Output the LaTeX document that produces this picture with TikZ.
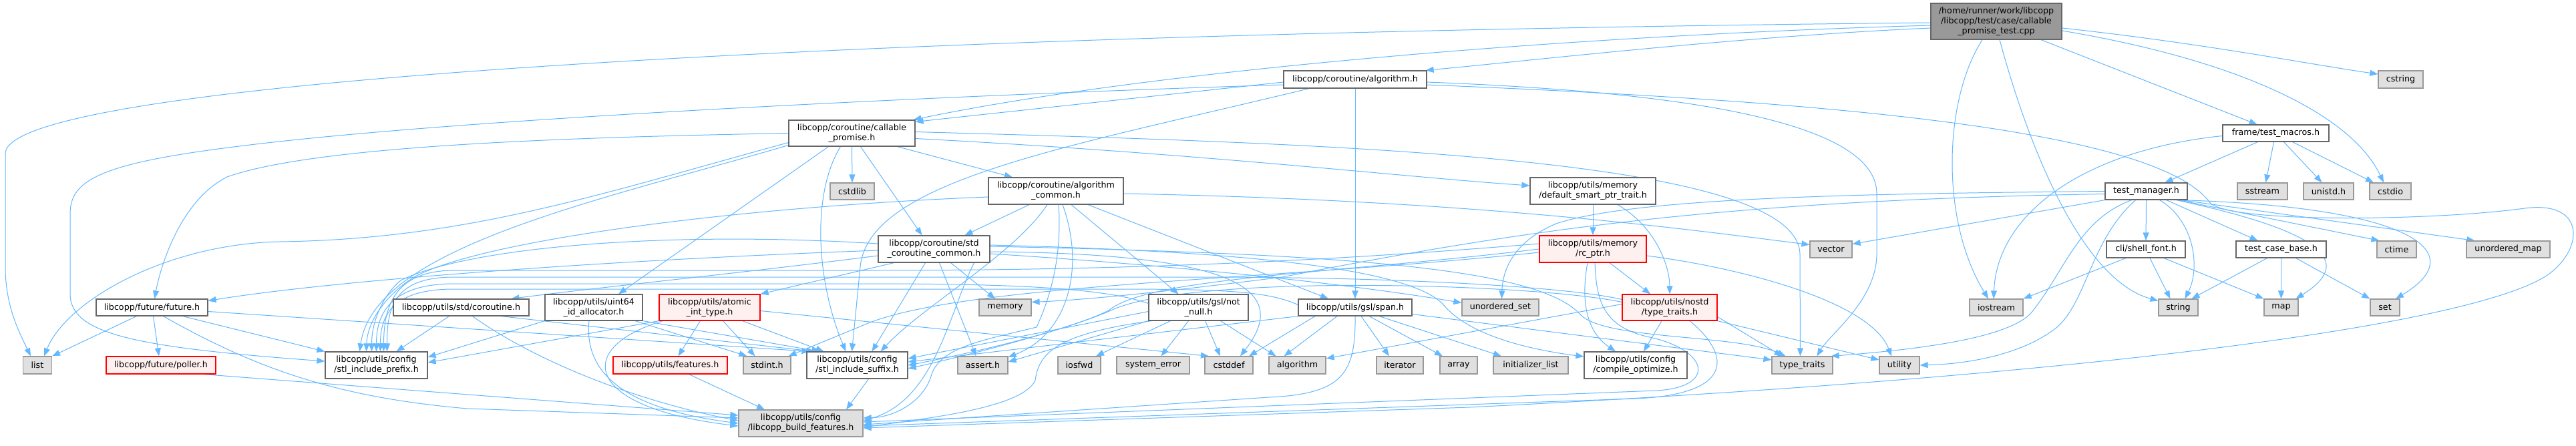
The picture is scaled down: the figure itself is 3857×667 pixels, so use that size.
\documentclass[tikz,border=0pt]{standalone}
\usepackage{fontspec}
\newfontfamily\nf{DejaVu Sans}
\usetikzlibrary{arrows.meta}
\definecolor{eb}{HTML}{63B8FF}
\definecolor{gfill}{HTML}{E0E0E0}
\definecolor{gdraw}{HTML}{999999}
\definecolor{wdraw}{HTML}{666666}
\definecolor{rfill}{HTML}{FFF0F0}
\definecolor{rdraw}{HTML}{FF0000}
\definecolor{rootfill}{HTML}{999999}
\pgfdeclarelayer{bg}
\pgfsetlayers{bg,main}
\begin{document}
\begin{tikzpicture}[x=1pt,y=-1pt,
  every node/.style={inner sep=0pt, align=center, font={\nf\fontsize{12.7pt}{14.7pt}\selectfont}, line width=1.2pt},
  sz/.style 2 args={minimum width=#1, minimum height=#2},
  wbox/.style={draw=wdraw, fill=white},
  gbox/.style={draw=gdraw, fill=gfill},
  rbox/.style={draw=rdraw, fill=rfill},
  rootbox/.style={draw=wdraw, fill=rootfill},
  e/.style={draw=eb, line width=1pt, -{Triangle[length=12pt,width=9pt]}},
]
\useasboundingbox (0,0) rectangle (3857,667);
% nodes
\node[rootbox, sz={196pt}{54pt}] (main) at (2989,32) {/home/runner/work/libcopp\\/libcopp/test/case/callable\\\_promise\_test.cpp};
\node[gbox, sz={43pt}{26pt}] (list) at (56,547) {list};
\node[wbox, sz={167pt}{25pt}] (future) at (227.5,460.5) {libcopp/future/future.h};
\node[rbox, sz={164pt}{26pt}] (poller) at (241,547) {libcopp/future/poller.h};
\node[wbox, sz={153pt}{40pt}] (stlpre) at (563.5,547) {libcopp/utils/config\\/stl\_include\_prefix.h};
\node[wbox, sz={203pt}{25pt}] (stdcoro) at (690.5,460.5) {libcopp/utils/std/coroutine.h};
\node[wbox, sz={146pt}{39pt}] (uint64) at (889,460.5) {libcopp/utils/uint64\\\_id\_allocator.h};
\node[rbox, sz={151pt}{39pt}] (atomic) at (1062.5,460.5) {libcopp/utils/atomic\\\_int\_type.h};
\node[rbox, sz={171pt}{26pt}] (features) at (1003.5,547) {libcopp/utils/features.h};
\node[gbox, sz={71pt}{26pt}] (stdint) at (1148.5,547) {stdint.h};
\node[wbox, sz={151pt}{40pt}] (stlsuf) at (1283.5,547) {libcopp/utils/config\\/stl\_include\_suffix.h};
\node[gbox, sz={186pt}{40pt}] (buildf) at (1199,634) {libcopp/utils/config\\/libcopp\_build\_features.h};
\node[wbox, sz={189pt}{39pt}] (callable) at (1275.5,199.5) {libcopp/coroutine/callable\\\_promise.h};
\node[gbox, sz={66pt}{25pt}] (cstdlib) at (1276,286.5) {cstdlib};
\node[wbox, sz={202pt}{40pt}] (algcommon) at (1581,286) {libcopp/coroutine/algorithm\\\_common.h};
\node[wbox, sz={167pt}{40pt}] (stdcommon) at (1398.5,373) {libcopp/coroutine/std\\\_coroutine\_common.h};
\node[gbox, sz={78pt}{25pt}] (memory) at (1505,460.5) {memory};
\node[wbox, sz={149pt}{39pt}] (notnull) at (1794.5,460.5) {libcopp/utils/gsl/not\\\_null.h};
\node[gbox, sz={75pt}{26pt}] (assert) at (1471.5,547) {assert.h};
\node[gbox, sz={64pt}{26pt}] (iosfwd) at (1616,547) {iosfwd};
\node[gbox, sz={109pt}{26pt}] (syserr) at (1726.5,547) {system\_error};
\node[gbox, sz={72pt}{26pt}] (cstddef) at (1840,547) {cstddef};
\node[gbox, sz={85pt}{26pt}] (algorithm) at (1942.5,547) {algorithm};
\node[wbox, sz={214pt}{26pt}] (algh) at (2029,119) {libcopp/coroutine/algorithm.h};
\node[wbox, sz={188pt}{40pt}] (dsp) at (2385,286) {libcopp/utils/memory\\/default\_smart\_ptr\_trait.h};
\node[rbox, sz={160pt}{40pt}] (rcptr) at (2385,373) {libcopp/utils/memory\\/rc\_ptr.h};
\node[wbox, sz={170pt}{25pt}] (span) at (2029,460.5) {libcopp/utils/gsl/span.h};
\node[gbox, sz={115pt}{25pt}] (uset) at (2246.5,460.5) {unordered\_set};
\node[rbox, sz={142pt}{39pt}] (nostd) at (2500,460.5) {libcopp/utils/nostd\\/type\_traits.h};
\node[gbox, sz={70pt}{26pt}] (iterator) at (2096,547) {iterator};
\node[gbox, sz={56pt}{26pt}] (array) at (2184,547) {array};
\node[gbox, sz={112pt}{26pt}] (initlist) at (2292,547) {initializer\_list};
\node[wbox, sz={154pt}{40pt}] (compopt) at (2449,547) {libcopp/utils/config\\/compile\_optimize.h};
\node[gbox, sz={63pt}{25pt}] (vector) at (2741.5,373.5) {vector};
\node[gbox, sz={80pt}{25pt}] (iostream) at (2989,460.5) {iostream};
\node[gbox, sz={91pt}{26pt}] (typetraits) at (2698.5,547) {type\_traits};
\node[gbox, sz={60pt}{26pt}] (utility) at (2844,547) {utility};
\node[wbox, sz={123pt}{25pt}] (testmgr) at (3213.5,286.5) {test\_manager.h};
\node[wbox, sz={118pt}{25pt}] (shellfont) at (3213,373.5) {cli/shell\_font.h};
\node[gbox, sz={67pt}{26pt}] (cstring) at (3594.5,119) {cstring};
\node[wbox, sz={159pt}{25pt}] (testmacros) at (3407.5,199.5) {frame/test\_macros.h};
\node[gbox, sz={75pt}{25pt}] (sstream) at (3387.5,286.5) {sstream};
\node[gbox, sz={75pt}{25pt}] (unistd) at (3486.5,286.5) {unistd.h};
\node[gbox, sz={62pt}{25pt}] (cstdio) at (3579,286.5) {cstdio};
\node[wbox, sz={135pt}{25pt}] (tcbase) at (3415.5,373.5) {test\_case\_base.h};
\node[gbox, sz={59pt}{25pt}] (ctime) at (3588.5,373.5) {ctime};
\node[gbox, sz={125pt}{25pt}] (umap) at (3755.5,373.5) {unordered\_map};
\node[gbox, sz={59pt}{25pt}] (string) at (3261.5,460.5) {string};
\node[gbox, sz={51pt}{25pt}] (map) at (3415.5,460.5) {map};
\node[gbox, sz={44pt}{25pt}] (set) at (3571,460.5) {set};

\begin{pgfonlayer}{bg}
\fill[white] (0,0) rectangle (3857,667);
% main
\draw[e] ([yshift=-2pt]main.west) .. controls (1300,50) and (8,120) .. (8,230) -- (8,400) .. controls (8,460) and (30,500) .. ([xshift=-10pt]list.north);
\draw[e] ([yshift=-6pt]main.west) .. controls (2300,55) and (1700,110) .. ([xshift=-3pt]callable.north east);
\draw[e] ([yshift=-10pt]main.west) .. controls (2600,55) and (2300,90) .. ([xshift=-2pt]algh.north east);
\draw[e] ([xshift=-21pt]main.south) .. controls (2910,150) and (2905,330) .. ([xshift=-12pt]iostream.north);
\draw[e] ([xshift=5pt]main.south) .. controls (3040,230) and (3120,420) .. ([yshift=10pt]string.west);
\draw[e] ([xshift=67pt]main.south) -- ([xshift=-28pt]testmacros.north);
\draw[e] ([yshift=-10pt]main.east) .. controls (3300,65) and (3450,95) .. ([yshift=8pt]cstring.west);
\draw[e] ([yshift=-14pt]main.east) .. controls (3350,90) and (3520,170) .. ([xshift=-10pt]cstdio.north);
% test_macros
\draw[e] ([xshift=-27pt]testmacros.south) -- ([xshift=28pt]testmgr.north);
\draw[e] ([xshift=-3pt]testmacros.south) -- ([xshift=5pt]sstream.north);
\draw[e] ([xshift=12pt]testmacros.south) -- ([xshift=-10pt]unistd.north);
\draw[e] ([xshift=25pt]testmacros.south) -- ([xshift=-25pt]cstdio.north);
\draw[e] ([yshift=-4pt]testmacros.west) .. controls (3120,225) and (2990,320) .. ([xshift=-4pt]iostream.north);
% test_manager
\draw[e] (testmgr.south) -- (shellfont.north);
\draw[e] ([xshift=30pt]testmgr.south) -- ([xshift=-35pt]tcbase.north);
\draw[e] ([xshift=20pt]testmgr.south) .. controls (3285,330) and (3295,400) .. ([xshift=10pt]string.north);
\draw[e] ([xshift=45pt]testmgr.south) .. controls (3470,345) and (3530,390) .. ([xshift=22pt]map.north);
\draw[e] ([xshift=48pt]testmgr.south) -- ([xshift=-26pt]ctime.north);
\draw[e] ([xshift=52pt]testmgr.south) -- ([xshift=-50pt]umap.north);
\draw[e] ([xshift=50pt]testmgr.south) .. controls (3620,310) and (3700,380) .. ([xshift=16pt]set.north);
\draw[e] (testmgr.south west) -- ([yshift=8pt]vector.east);
\draw[e] ([xshift=-22pt]testmgr.south) .. controls (3110,330) and (3090,410) .. (3040,470) .. controls (3000,510) and (2850,525) .. ([xshift=-3pt]typetraits.north east);
\draw[e] ([xshift=-16pt]testmgr.south) .. controls (3130,360) and (3125,450) .. (3080,490) .. controls (3030,530) and (2950,545) .. (utility.east);
\draw[e] (testmgr.west) .. controls (2800,290) and (2450,295) .. (2330,335) .. controls (2270,360) and (2250,400) .. ([xshift=2pt]uset.north);
\draw[e] ([yshift=-4pt]testmgr.west) .. controls (2600,300) and (2300,340) .. (1920,415) .. controls (1800,430) and (1650,448) .. ([yshift=8pt]memory.east);
% algorithm.h
\draw[e] ([yshift=-4pt]algh.west) -- ([yshift=-3pt]callable.north east);
\draw[e] ([yshift=-8pt]algh.west) .. controls (1500,140) and (700,175) .. (350,220) .. controls (150,245) and (105,270) .. (105,320) -- (105,440) .. controls (105,500) and (200,520) .. ([yshift=6pt]stlpre.west);
\draw[e] ([xshift=-69pt]algh.south) .. controls (1600,220) and (1300,270) .. (1288,400) -- ([xshift=-8pt]stlsuf.north);
\draw[e] (algh.south) -- (span.north);
\draw[e] ([yshift=-4pt]algh.east) .. controls (2450,135) and (2810,170) .. (2810,290) -- (2810,380) .. controls (2810,450) and (2740,500) .. ([xshift=22pt]typetraits.north);
\draw[e] ([yshift=-8pt]algh.east) .. controls (2700,150) and (3230,190) .. (3310,305) .. controls (3350,335) and (3650,330) .. (3780,312) .. controls (3870,300) and (3870,370) .. (3817,410) .. controls (3720,480) and (3200,560) .. (2200,610) -- ([yshift=-7pt]buildf.east);
% callable_promise
\draw[e] (callable.west) .. controls (900,205) and (480,215) .. (340,265) .. controls (270,300) and (240,400) .. ([xshift=4pt]future.north);
\draw[e] ([yshift=-14pt]callable.west) .. controls (900,290) and (700,358) .. (420,362) .. controls (250,365) and (100,450) .. ([xshift=10pt]list.north);
\draw[e] ([yshift=-18pt]callable.west) .. controls (900,300) and (560,370) .. ([xshift=-25pt]stlpre.north);
\draw[e] ([xshift=-35pt]callable.south) -- ([xshift=37pt]uint64.north);
\draw[e] ([xshift=-17pt]callable.south) .. controls (1215,290) and (1222,420) .. ([xshift=-17pt]stlsuf.north);
\draw[e] (callable.south) -- (cstdlib.north);
\draw[e] ([xshift=13pt]callable.south) -- ([xshift=-18pt]stdcommon.north);
\draw[e] ([xshift=68pt]callable.south) -- ([xshift=-65pt]algcommon.north);
\draw[e] ([yshift=-8pt]callable.east) .. controls (1800,230) and (2100,265) .. ([yshift=8pt]dsp.west);
\draw[e] ([yshift=2pt]callable.east) .. controls (2000,215) and (2690,235) .. (2695,380) -- ([xshift=-3pt]typetraits.north);
% std_coroutine_common
\draw[e] ([xshift=-13pt]stdcommon.south) -- ([xshift=22pt]stlsuf.north);
\draw[e] ([xshift=8pt]stdcommon.south) -- ([xshift=-10pt]assert.north);
\draw[e] ([xshift=25pt]stdcommon.south) -- ([xshift=-15pt]memory.north);
\draw[e] ([yshift=-2pt]stdcommon.west) .. controls (900,390) and (500,420) .. ([yshift=10pt]future.east);
\draw[e] ([yshift=-10pt]stdcommon.west) .. controls (1100,410) and (900,430) .. ([xshift=75pt]stdcoro.north);
\draw[e] ([xshift=-60pt]stdcommon.south) -- (atomic.north east);
\draw[e] ([yshift=8pt]stdcommon.west) .. controls (1000,345) and (700,370) .. (600,420) .. controls (575,440) and (556.5,480) .. ([xshift=-7pt]stlpre.north);
\draw[e] ([yshift=-4pt]stdcommon.east) .. controls (1870,380) and (1930,440) .. ([xshift=17pt]cstddef.north);
\draw[e] ([yshift=-7pt]stdcommon.east) .. controls (1800,400) and (2050,430) .. ([yshift=7pt]uset.west);
\draw[e] ([yshift=4pt]stdcommon.east) .. controls (2000,380) and (2300,400) .. (2365,470) .. controls (2400,510) and (2600,500) .. ([xshift=-25pt]typetraits.north);
\draw[e] ([yshift=6pt]stdcommon.east) .. controls (1800,375) and (2100,395) .. (2160,455) .. controls (2200,505) and (2300,525) .. ([yshift=13pt]compopt.west);
\draw[e] ([xshift=60pt]stdcommon.south) .. controls (1420,470) and (1400,600) .. ([yshift=4pt]buildf.east);
% algorithm_common
\draw[e] ([xshift=-40pt]algcommon.south) -- ([xshift=46pt]stdcommon.north);
\draw[e] ([xshift=-13pt]algcommon.south) .. controls (1520,380) and (1380,460) .. ([xshift=35pt]stlsuf.north);
\draw[e] ([xshift=4pt]algcommon.south) .. controls (1590,380) and (1575,440) .. (1552,490) .. controls (1470,510) and (1410,520) .. (1395,560) .. controls (1385,600) and (1340,625) .. ([yshift=8pt]buildf.east);
\draw[e] ([xshift=10pt]algcommon.south) .. controls (1625,400) and (1600,500) .. ([yshift=12pt]assert.east);
\draw[e] ([xshift=23pt]algcommon.south) -- ([xshift=-30pt]notnull.north);
\draw[e] ([xshift=48pt]algcommon.south) -- ([xshift=-40pt]span.north);
\draw[e] ([yshift=-9pt]algcommon.west) .. controls (1100,310) and (720,360) .. (620,415) .. controls (580,440) and (550,480) .. ([xshift=-15pt]stlpre.north);
\draw[e] ([yshift=-4pt]algcommon.east) .. controls (2200,300) and (2500,340) .. ([yshift=7pt]vector.west);
% not_null
\draw[e] ([xshift=-42pt]notnull.south) -- ([xshift=25pt]iosfwd.north);
\draw[e] ([xshift=-15pt]notnull.south) -- ([xshift=12pt]syserr.north);
\draw[e] ([xshift=10pt]notnull.south) -- ([xshift=-13pt]cstddef.north);
\draw[e] ([xshift=33pt]notnull.south) -- ([xshift=-32pt]algorithm.north);
\draw[e] ([yshift=-6pt]notnull.west) -- ([yshift=10pt]stlsuf.east);
\draw[e] (notnull.south west) -- ([yshift=5pt]assert.east);
\draw[e] ([xshift=-70pt]notnull.south) .. controls (1580,500) and (1555,530) .. (1550,570) .. controls (1530,610) and (1400,625) .. ([yshift=-6pt]buildf.east);
\draw[e] ([yshift=6pt]notnull.west) .. controls (1650,430) and (1500,425) .. (1300,425) -- (680,425) .. controls (590,425) and (563.5,465) .. (stlpre.north);
% span
\draw[e] ([xshift=9pt]span.south) -- ([xshift=-16pt]iterator.north);
\draw[e] ([xshift=21pt]span.south) -- ([xshift=-24pt]array.north);
\draw[e] ([xshift=36pt]span.south) -- ([xshift=-44pt]initlist.north);
\draw[e] ([xshift=-27pt]span.south) -- ([xshift=-20pt]algorithm.north);
\draw[e] ([xshift=-60pt]span.south) -- ([xshift=30pt]cstddef.north);
\draw[e] (span.south) .. controls (2030,560) and (2010,590) .. (1900,595) -- ([yshift=-2pt]buildf.east);
\draw[e] ([yshift=-10pt]span.east) -- ([yshift=8pt]typetraits.west);
\draw[e] ([yshift=4pt]span.west) .. controls (1890,432) and (1800,433) .. (1600,433) -- (680,433) .. controls (590,433) and (569.5,470) .. ([xshift=6pt]stlpre.north);
\draw[e] (span.south west) -- ([yshift=5pt]stlsuf.east);
% rc_ptr
\draw[e] ([xshift=25pt]rcptr.south) -- ([xshift=-29pt]nostd.north);
\draw[e] ([xshift=-8pt]rcptr.south) .. controls (2365,460) and (2380,500) .. ([xshift=-30pt]compopt.north);
\draw[e] ([xshift=3pt]rcptr.south) .. controls (2390,450) and (2400,490) .. (2470,505) .. controls (2560,525) and (2570,580) .. (2480,585) -- ([yshift=2pt]buildf.east);
\draw[e] ([yshift=-10pt]rcptr.east) .. controls (2600,400) and (2800,450) .. ([xshift=-12pt]utility.north);
\draw[e] ([yshift=8pt]rcptr.west) .. controls (2000,390) and (1700,405) .. (1300,405) -- (680,405) .. controls (590,405) and (574.5,460) .. ([xshift=11pt]stlpre.north);
\draw[e] (rcptr.west) .. controls (2000,410) and (1720,415) .. (1660,465) .. controls (1600,495) and (1450,530) .. (stlsuf.east);
\draw[e] ([yshift=-5pt]rcptr.west) .. controls (1900,420) and (1450,425) .. (1300,484) -- ([xshift=-4pt]stdint.north east);
% default_smart_ptr_trait
\draw[e] (dsp.south) -- (rcptr.north);
\draw[e] ([xshift=37pt]dsp.south) .. controls (2480,340) and (2500,400) .. (nostd.north);
% nostd/type_traits
\draw[e] ([xshift=-12pt]nostd.south) -- ([xshift=12pt]compopt.north);
\draw[e] ([yshift=-14pt]nostd.east) -- ([xshift=-30pt]typetraits.north);
\draw[e] (nostd.south east) -- ([yshift=8pt]utility.west);
\draw[e] ([xshift=30pt]nostd.south) .. controls (2590,530) and (2600,590) .. (2450,597) -- ([yshift=-4pt]buildf.east);
\draw[e] ([yshift=5pt]nostd.west) -- ([yshift=10pt]algorithm.east);
\draw[e] ([yshift=12pt]nostd.west) .. controls (2350,430) and (2100,415) .. (1800,415) -- (680,415) .. controls (590,415) and (579.5,460) .. ([xshift=16pt]stlpre.north);
\draw[e] ([yshift=8pt]nostd.west) .. controls (2300,425) and (1800,410) .. (1670,462) .. controls (1610,490) and (1460,530) .. ([yshift=-5pt]stlsuf.east);
% std/coroutine.h
\draw[e] ([xshift=-18pt]stdcoro.south) -- ([xshift=30pt]stlpre.north);
\draw[e] ([xshift=17pt]stdcoro.south) .. controls (800,540) and (950,600) .. ([yshift=4pt]buildf.west);
\draw[e] ([xshift=60pt]stdcoro.south) -- ([xshift=12pt]stlsuf.north west);
% uint64_id_allocator
\draw[e] (uint64.south west) -- ([yshift=12pt]stlpre.east);
\draw[e] ([xshift=-7pt]uint64.south) .. controls (875,550) and (920,610) .. (buildf.west);
\draw[e] ([xshift=62pt]uint64.south) -- ([xshift=-30pt]stdint.north);
\draw[e] (uint64.south east) -- ([xshift=20pt]stlsuf.north west);
% atomic_int_type
\draw[e] ([xshift=-14pt]atomic.south) -- ([xshift=12pt]features.north);
\draw[e] ([xshift=20pt]atomic.south) -- ([xshift=-18pt]stdint.north);
\draw[e] ([xshift=49pt]atomic.south) -- ([xshift=-50pt]stlsuf.north);
\draw[e] (atomic.south west) -- ([yshift=4pt]stlpre.east);
\draw[e] ([xshift=-70pt]atomic.south) .. controls (860,520) and (870,610) .. ([yshift=-4pt]buildf.west);
\draw[e] ([yshift=-5pt]atomic.east) -- ([xshift=-30pt]cstddef.north);
% features, poller, future, suffix
\draw[e] ([xshift=28pt]features.south) -- ([xshift=-54pt]buildf.north);
\draw[e] ([xshift=64pt]poller.south) -- ([yshift=12pt]buildf.west);
\draw[e] ([xshift=17pt]future.south) .. controls (380,550) and (500,595) .. (700,612) -- ([yshift=8pt]buildf.west);
\draw[e] ([xshift=-23pt]future.south) -- (list.north east);
\draw[e] ([xshift=2pt]future.south) -- ([xshift=-3pt]poller.north);
\draw[e] ([xshift=46pt]future.south) -- (stlpre.north west);
\draw[e] ([yshift=-6pt]future.east) -- ([xshift=5pt]stlsuf.north west);
\draw[e] ([xshift=17pt]stlsuf.south) -- ([xshift=68pt]buildf.north);
% shell_font, test_case_base
\draw[e] ([xshift=-30pt]shellfont.south) -- (iostream.north east);
\draw[e] ([xshift=6pt]shellfont.south) -- ([xshift=-12pt]string.north);
\draw[e] ([xshift=27pt]shellfont.south) -- (map.north west);
\draw[e] ([xshift=-21pt]tcbase.south) -- ([xshift=20pt]string.north);
\draw[e] (tcbase.south) -- (map.north);
\draw[e] ([xshift=22pt]tcbase.south) -- (set.north west);
\end{pgfonlayer}
\end{tikzpicture}
\end{document}
